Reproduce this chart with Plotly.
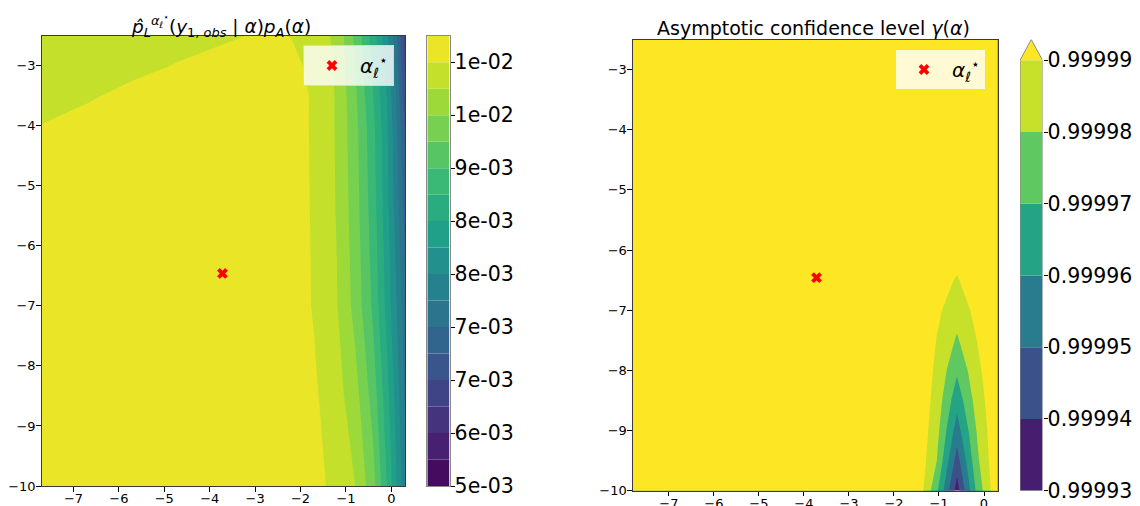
import numpy as np
import plotly.graph_objects as go

# ---------------- data ----------------
ALPHA_STAR_X = [-3.72]
ALPHA_STAR_Y = [-6.46]
LEGEND_LABEL = "<i>α</i><sub><i>ℓ</i></sub><sup>⋆</sup>"

# left panel: p_L(y_obs | alpha) p_A(alpha)
LEFT_X = [-7.7, -6.7, -5.7, -4.7, -3.7, -2.7, -2.2, -1.7, -1.2, -0.8, -0.4, -0.1, 0.1, 0.3]
LEFT_Y = [-10.0, -8.5, -7.0, -5.5, -4.0, -3.5, -3.0, -2.5]
LEFT_Z = [
    [0.01038, 0.01041, 0.010425, 0.01044, 0.01044, 0.01038, 0.010335, 0.01029, 0.010116, 0.009906, 0.009405, 0.008706, 0.00816, 0.00759],
    [0.010395, 0.010416, 0.01044, 0.010455, 0.010455, 0.010395, 0.010335, 0.010245, 0.01002, 0.00972, 0.00918, 0.00852, 0.00801, 0.00747],
    [0.01038, 0.010425, 0.010455, 0.01047, 0.01047, 0.01041, 0.010335, 0.010179, 0.009915, 0.00951, 0.00894, 0.00831, 0.007845, 0.00732],
    [0.010335, 0.01038, 0.010425, 0.01044, 0.010455, 0.010395, 0.010335, 0.01017, 0.009885, 0.00945, 0.00885, 0.00822, 0.00771, 0.00711],
    [0.010206, 0.01026, 0.01032, 0.01035, 0.01038, 0.010365, 0.01032, 0.010164, 0.00987, 0.009405, 0.008775, 0.00816, 0.00759, 0.00687],
    [0.01011, 0.010179, 0.010245, 0.01029, 0.010335, 0.01035, 0.010305, 0.01017, 0.00987, 0.00936, 0.008706, 0.008106, 0.007506, 0.00669],
    [0.01005, 0.01011, 0.010155, 0.010209, 0.01026, 0.01029, 0.01026, 0.01014, 0.009855, 0.009306, 0.00864, 0.00801, 0.00741, 0.00657],
    [0.010005, 0.01005, 0.010095, 0.01014, 0.010176, 0.010224, 0.010194, 0.01008, 0.009825, 0.00924, 0.00855, 0.00789, 0.00729, 0.00645],
]
LEFT_LEVELS = [0.0054, 0.0057, 0.0060, 0.0063, 0.0066, 0.0069, 0.0072, 0.0075, 0.0078,
               0.0081, 0.0084, 0.0087, 0.0090, 0.0093, 0.0096, 0.0099, 0.0102, 0.0105]
LEFT_TICKS = [0.0054, 0.0060, 0.0066, 0.0072, 0.0078, 0.0084, 0.0090, 0.0096, 0.0102]
LEFT_TICK_TEXT = ["5e-03", "6e-03", "7e-03", "7e-03", "8e-03", "8e-03", "9e-03", "1e-02", "1e-02"]

# right panel: asymptotic confidence level gamma(alpha)
RIGHT_X = [-7.8, -1.95, -1.5, -1.05, -0.6, -0.15, 0.3]
RIGHT_Y = [-10.0, -9.5, -9.0, -8.5, -8.0, -7.5, -7.0, -6.5, -6.0, -2.5]
RIGHT_Z = [
    [0.999999, 0.999999, 0.999999, 0.999972, 0.9999355, 0.999973, 0.9999985],
    [0.999999, 0.999999, 0.999999, 0.9999802, 0.9999456, 0.999978, 0.999999],
    [0.999999, 0.999999, 0.999999, 0.9999835, 0.9999552, 0.999981, 0.999999],
    [0.999999, 0.999999, 0.999999, 0.999986, 0.9999637, 0.9999845, 0.999999],
    [0.999999, 0.999999, 0.999999, 0.999988, 0.9999716, 0.9999875, 0.999999],
    [0.999999, 0.999999, 0.999999, 0.9999897, 0.9999788, 0.9999902, 0.999999],
    [0.999999, 0.999999, 0.999999, 0.999992, 0.9999842, 0.999993, 0.999999],
    [0.999999, 0.999999, 0.999999, 0.999994, 0.9999892, 0.999996, 0.999999],
    [0.999999, 0.999999, 0.999999, 0.999996, 0.999994, 0.999998, 0.999999],
    [0.999999, 0.999999, 0.999999, 0.999999, 0.999999, 0.999999, 0.999999],
]
RIGHT_LEVELS = [0.99993, 0.99994, 0.99995, 0.99996, 0.99997, 0.99998, 0.99999]
RIGHT_TICK_TEXT = ["0.99993", "0.99994", "0.99995", "0.99996", "0.99997", "0.99998", "0.99999"]

X_TICKS = [-7, -6, -5, -4, -3, -2, -1, 0]
Y_TICKS = [-10, -9, -8, -7, -6, -5, -4, -3]

LEFT_TITLE = ("<i>p̂</i><sub><i>L</i></sub><sup><i>α</i><sub><i>ℓ</i></sub><sup>⋆</sup></sup>"
              "(<i>y</i><sub>1, <i>obs</i></sub> | <i>α</i>)<i>p</i><sub><i>A</i></sub>(<i>α</i>)")
RIGHT_TITLE = "Asymptotic confidence level <i>γ</i>(<i>α</i>)"

# ---------------- styling helpers ----------------
FONT = "DejaVu Sans"
W, H = 1140, 506
VIRIDIS = ["#440154", "#482878", "#3e4989", "#31688e", "#26828e",
           "#1f9e89", "#35b779", "#6ece58", "#b5de2b", "#fde725"]


def viridis(t):
    t = min(max(t, 0.0), 1.0)
    pos = t * (len(VIRIDIS) - 1)
    i = min(int(pos), len(VIRIDIS) - 2)
    f = pos - i
    a = [int(VIRIDIS[i][k:k + 2], 16) for k in (1, 3, 5)]
    b = [int(VIRIDIS[i + 1][k:k + 2], 16) for k in (1, 3, 5)]
    c = [round(a[k] + (b[k] - a[k]) * f) for k in range(3)]
    return "rgb(%d,%d,%d)" % tuple(c)


def px_x(p):
    return p / W


def px_y(p):
    return 1 - p / H


# matplotlib-like band colours: band k -> viridis((k+0.5)/N)
n_left = len(LEFT_LEVELS) - 1
left_colors = [viridis((k + 0.5) / n_left) for k in range(n_left)]
n_right = len(RIGHT_LEVELS) - 1
right_colors = [viridis((k + 0.5) / n_right) for k in range(n_right)]
over_color = viridis(1.0)

left_cs = [[j / (n_left - 1), left_colors[j]] for j in range(n_left)]
right_band_colors = right_colors + [over_color]
right_cs = [[j / n_right, right_band_colors[j]] for j in range(n_right + 1)]

fig = go.Figure()

fig.add_trace(go.Contour(
    x=LEFT_X, y=LEFT_Y, z=LEFT_Z, autocontour=False,
    contours=dict(start=LEFT_LEVELS[1], end=LEFT_LEVELS[-2],
                  size=LEFT_LEVELS[1] - LEFT_LEVELS[0], coloring="fill", showlines=False),
    line=dict(width=0, smoothing=0), colorscale=left_cs, showscale=False,
    hoverinfo="skip", xaxis="x", yaxis="y", showlegend=False))

fig.add_trace(go.Contour(
    x=RIGHT_X, y=RIGHT_Y, z=RIGHT_Z, autocontour=False,
    contours=dict(start=RIGHT_LEVELS[1], end=RIGHT_LEVELS[-1],
                  size=RIGHT_LEVELS[1] - RIGHT_LEVELS[0], coloring="fill", showlines=False),
    line=dict(width=0, smoothing=0), colorscale=right_cs, showscale=False,
    hoverinfo="skip", xaxis="x2", yaxis="y2", showlegend=False))

# alpha* markers
for xa, ya, lg in (("x", "y", "legend"), ("x2", "y2", "legend2")):
    fig.add_trace(go.Scatter(x=ALPHA_STAR_X, y=ALPHA_STAR_Y, mode="markers", name=LEGEND_LABEL,
                             marker=dict(symbol="x", size=9.5, color="red", line=dict(width=0)),
                             xaxis=xa, yaxis=ya, legend=lg, showlegend=True))

# left colorbar (stacked bands)
left_lv = np.array(LEFT_LEVELS)
fig.add_trace(go.Bar(x=[0] * n_left, y=np.diff(left_lv), base=left_lv[:-1], width=1,
                     marker=dict(color=left_colors, line=dict(width=0)),
                     xaxis="x3", yaxis="y3", showlegend=False, hoverinfo="skip"))

# right colorbar (stacked bands + extension triangle)
right_lv = np.array(RIGHT_LEVELS)
band = right_lv[1] - right_lv[0]
tri_top = right_lv[-1] + band * 0.29
fig.add_trace(go.Bar(x=[0] * n_right, y=np.diff(right_lv), base=right_lv[:-1], width=1,
                     marker=dict(color=right_colors, line=dict(width=0)),
                     xaxis="x4", yaxis="y4", showlegend=False, hoverinfo="skip"))
fig.add_trace(go.Scatter(x=[-0.5, 0, 0.5, -0.5], y=[right_lv[-1], tri_top, right_lv[-1], right_lv[-1]],
                         mode="lines", fill="toself", fillcolor=over_color, line=dict(width=0),
                         xaxis="x4", yaxis="y4", showlegend=False, hoverinfo="skip", cliponaxis=False))
fig.add_trace(go.Scatter(x=[-0.5, -0.5, 0, 0.5, 0.5, -0.5],
                         y=[right_lv[0], right_lv[-1], tri_top, right_lv[-1], right_lv[0], right_lv[0]],
                         mode="lines", line=dict(width=1, color="#8a8a8a"),
                         xaxis="x4", yaxis="y4", showlegend=False, hoverinfo="skip", cliponaxis=False))

axis_common = dict(showline=True, mirror=True, linecolor="#3a3a3a", linewidth=1,
                   ticks="outside", ticklen=4.5, tickwidth=1, tickcolor="black",
                   showgrid=False, zeroline=False, automargin=False,
                   tickfont=dict(family=FONT, size=13, color="black"))

cb_common = dict(side="right", ticks="outside", ticklen=4, tickwidth=1, tickcolor="black",
                 showgrid=False, zeroline=False, ticklabelstandoff=-4, automargin=False,
                 tickfont=dict(family=FONT, size=20.5, color="black"))

# plot rectangles in pixels
L_PLOT = (41.7, 405.0, 35.7, 486.0)
R_PLOT = (632.9, 997.5, 39.5, 490.7)
L_CB = (427.3, 449.5)
R_CB = (1020.0, 1042.5)
R_CB_TOP = 39.5

legend_common = dict(xanchor="right", yanchor="top", bgcolor="rgba(255,255,255,0.8)",
                     bordercolor="#d6d6d6", borderwidth=1, itemwidth=46,
                     font=dict(family=FONT, size=20, color="black"))

fig.update_layout(
    width=W, height=H, margin=dict(l=0, r=0, t=0, b=0, pad=0, autoexpand=False),
    paper_bgcolor="white", plot_bgcolor="white",
    font=dict(family=FONT, color="black"),
    xaxis=dict(domain=[px_x(L_PLOT[0]), px_x(L_PLOT[1])], range=[LEFT_X[0], LEFT_X[-1]],
               tickvals=X_TICKS, anchor="y", ticklabelstandoff=-4, **axis_common),
    yaxis=dict(domain=[px_y(L_PLOT[3]), px_y(L_PLOT[2])], range=[LEFT_Y[0], LEFT_Y[-1]],
               tickvals=Y_TICKS, anchor="x", ticklabelstandoff=-2, **axis_common),
    xaxis2=dict(domain=[px_x(R_PLOT[0]), px_x(R_PLOT[1])], range=[RIGHT_X[0], RIGHT_X[-1]],
                tickvals=X_TICKS, anchor="y2", ticklabelstandoff=-4, **axis_common),
    yaxis2=dict(domain=[px_y(R_PLOT[3]), px_y(R_PLOT[2])], range=[RIGHT_Y[0], RIGHT_Y[-1]],
                tickvals=Y_TICKS, anchor="x2", ticklabelstandoff=-2, **axis_common),
    xaxis3=dict(domain=[px_x(L_CB[0]), px_x(L_CB[1])], range=[-0.5, 0.5], anchor="y3",
                showticklabels=False, ticks="", showgrid=False, zeroline=False, automargin=False,
                showline=True, mirror=True, linecolor="#8a8a8a", linewidth=1),
    yaxis3=dict(domain=[px_y(L_PLOT[3]), px_y(L_PLOT[2])], range=[LEFT_LEVELS[0], LEFT_LEVELS[-1]],
                anchor="x3", tickvals=LEFT_TICKS, ticktext=LEFT_TICK_TEXT,
                showline=True, mirror=True, linecolor="#8a8a8a", linewidth=1, **cb_common),
    xaxis4=dict(domain=[px_x(R_CB[0]), px_x(R_CB[1])], range=[-0.5, 0.5], anchor="y4",
                showticklabels=False, ticks="", showgrid=False, zeroline=False, showline=False,
                automargin=False),
    yaxis4=dict(domain=[px_y(R_PLOT[3]), px_y(R_CB_TOP)], range=[RIGHT_LEVELS[0], tri_top],
                anchor="x4", tickvals=RIGHT_LEVELS, ticktext=RIGHT_TICK_TEXT,
                showline=False, **cb_common),
    legend=dict(x=px_x(394), y=px_y(45), **legend_common),
    legend2=dict(x=px_x(986), y=px_y(49), **legend_common),
    annotations=[
        dict(text=LEFT_TITLE, xref="paper", yref="paper", x=px_x(221),
             y=px_y(L_PLOT[2] + 6), xanchor="center", yanchor="bottom", showarrow=False,
             font=dict(family=FONT, size=18.5, color="black")),
        dict(text=RIGHT_TITLE, xref="paper", yref="paper", x=px_x(813),
             y=px_y(R_PLOT[2] + 1.5), xanchor="center", yanchor="bottom", showarrow=False,
             font=dict(family=FONT, size=19, color="black")),
    ],
    showlegend=True,
)

# the page's default 8px body margin would shift the whole figure; remove it
fig.write_html("out.html", config={"displayModeBar": False},
               post_script="document.body.style.margin='0';document.body.style.overflow='hidden';")
